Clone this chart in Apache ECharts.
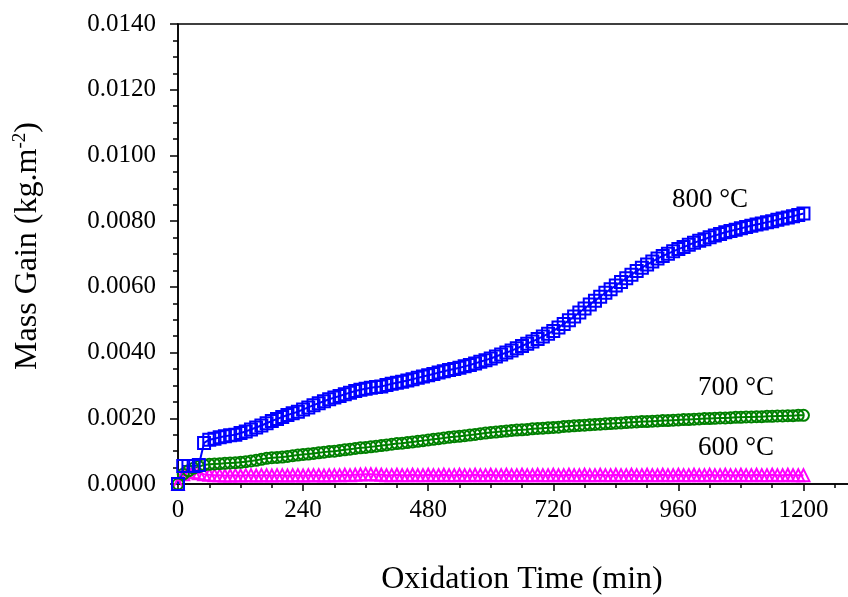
<!DOCTYPE html>
<html>
<head>
<meta charset="utf-8">
<script src="https://cdn.jsdelivr.net/npm/echarts@6/dist/echarts.min.js"></script>
<style>
    html, body { margin: 0; padding: 0; background: #fff; }
    #chart { width: 848px; height: 597px; }
</style>
</head>
<body>
<div id="chart"></div>
<script>
// Oxidation time, every 10 min from 0 to 1200
var times = [];
for (var t = 0; t <= 1200; t += 10) times.push(t);

// Mass gain (kg.m-2)
var gain800 = [
    0, 0.00055, 0.00055, 0.00055, 0.00058, 0.00125, 0.00135, 0.00138, 0.00142, 0.00145,
    0.00148, 0.00150, 0.00155, 0.00160, 0.00166, 0.00172, 0.00178, 0.00185, 0.00192, 0.00198,
    0.00204, 0.00210, 0.00215, 0.00220, 0.00227, 0.00233, 0.00240, 0.00246, 0.00252, 0.00258,
    0.00263, 0.00268, 0.00273, 0.00278, 0.00283, 0.00287, 0.00290, 0.00293, 0.00295, 0.00297,
    0.00301, 0.00305, 0.00308, 0.00311, 0.00315, 0.00319, 0.00323, 0.00327, 0.00331, 0.00335,
    0.00339, 0.00343, 0.00347, 0.00350, 0.00354, 0.00358, 0.00362, 0.00367, 0.00372, 0.00377,
    0.00382, 0.00388, 0.00394, 0.00400, 0.00406, 0.00413, 0.00420, 0.00427, 0.00434, 0.00441,
    0.00449, 0.00457, 0.00466, 0.00476, 0.00487, 0.00498, 0.00510, 0.00522, 0.00534, 0.00546,
    0.00558, 0.00570, 0.00582, 0.00593, 0.00604, 0.00615, 0.00626, 0.00637, 0.00648, 0.00658,
    0.00668, 0.00677, 0.00686, 0.00694, 0.00701, 0.00708, 0.00715, 0.00721, 0.00728, 0.00734,
    0.00740, 0.00745, 0.00751, 0.00756, 0.00761, 0.00766, 0.00770, 0.00774, 0.00778, 0.00782,
    0.00786, 0.00790, 0.00793, 0.00797, 0.00800, 0.00804, 0.00808, 0.00811, 0.00815, 0.00819,
    0.00823
];
var gain700 = [
    0, 0.00030, 0.00040, 0.00048, 0.00053, 0.00058, 0.00060, 0.00061, 0.00062, 0.00063,
    0.00064, 0.00065, 0.00066, 0.00068, 0.00070, 0.00072, 0.00075, 0.00078, 0.00080, 0.00081,
    0.00082, 0.00084, 0.00086, 0.00088, 0.00090, 0.00091, 0.00093, 0.00095, 0.00097, 0.00099,
    0.00100, 0.00102, 0.00104, 0.00106, 0.00108, 0.00110, 0.00111, 0.00113, 0.00115, 0.00117,
    0.00119, 0.00121, 0.00123, 0.00124, 0.00126, 0.00128, 0.00130, 0.00132, 0.00134, 0.00136,
    0.00138, 0.00140, 0.00142, 0.00144, 0.00145, 0.00147, 0.00149, 0.00151, 0.00153, 0.00155,
    0.00157, 0.00158, 0.00160, 0.00161, 0.00163, 0.00164, 0.00165, 0.00166, 0.00168, 0.00169,
    0.00170, 0.00171, 0.00172, 0.00173, 0.00175, 0.00176, 0.00177, 0.00178, 0.00179, 0.00180,
    0.00181, 0.00182, 0.00183, 0.00184, 0.00185, 0.00186, 0.00187, 0.00188, 0.00189, 0.00190,
    0.00190, 0.00191, 0.00192, 0.00193, 0.00193, 0.00194, 0.00195, 0.00196, 0.00196, 0.00197,
    0.00198, 0.00199, 0.00199, 0.00200, 0.00201, 0.00201, 0.00202, 0.00203, 0.00203, 0.00204,
    0.00204, 0.00205, 0.00205, 0.00206, 0.00206, 0.00207, 0.00207, 0.00208, 0.00208, 0.00209,
    0.00209
];
var gain600 = [
    0, 0.00030, 0.00038, 0.00036, 0.00033, 0.00030, 0.00028, 0.00027, 0.00027, 0.00026,
    0.00026, 0.00027, 0.00026, 0.00027, 0.00027, 0.00026, 0.00027, 0.00027, 0.00026, 0.00027,
    0.00027, 0.00026, 0.00027, 0.00027, 0.00026, 0.00027, 0.00027, 0.00027, 0.00026, 0.00027,
    0.00027, 0.00027, 0.00028, 0.00027, 0.00028, 0.00029, 0.00030, 0.00030, 0.00029, 0.00028,
    0.00027, 0.00027, 0.00028, 0.00027, 0.00027, 0.00028, 0.00027, 0.00027, 0.00028, 0.00027,
    0.00027, 0.00028, 0.00027, 0.00027, 0.00028, 0.00027, 0.00027, 0.00028, 0.00027, 0.00027,
    0.00028, 0.00027, 0.00027, 0.00028, 0.00027, 0.00027, 0.00028, 0.00027, 0.00027, 0.00028,
    0.00027, 0.00027, 0.00028, 0.00027, 0.00027, 0.00028, 0.00027, 0.00027, 0.00028, 0.00027,
    0.00027, 0.00028, 0.00027, 0.00027, 0.00028, 0.00027, 0.00027, 0.00028, 0.00027, 0.00027,
    0.00028, 0.00027, 0.00027, 0.00028, 0.00027, 0.00027, 0.00028, 0.00027, 0.00027, 0.00028,
    0.00027, 0.00027, 0.00028, 0.00027, 0.00027, 0.00028, 0.00027, 0.00027, 0.00028, 0.00027,
    0.00027, 0.00028, 0.00027, 0.00027, 0.00028, 0.00027, 0.00027, 0.00028, 0.00027, 0.00027,
    0.00027
];

var seriesLabels = ['600 °C', '700 °C', '800 °C'];

function pairs(values) {
    return values.map(function(v, i) { return [times[i], v]; });
}

var font = '"Liberation Serif", "DejaVu Serif", serif';
var chart = echarts.init(document.getElementById('chart'));

function lineSeries(name, data, color, symbol, size) {
    return {
        name: name,
        type: 'line',
        data: pairs(data),
        symbol: symbol,
        symbolSize: size,
        showAllSymbol: true,
        lineStyle: { color: color, width: 2 },
        itemStyle: { color: 'rgba(0,0,0,0)', borderColor: color, borderWidth: 2 },
        emphasis: { disabled: true },
        z: 3
    };
}

var option = {
    animation: false,
    backgroundColor: '#fff',
    grid: {
        left: 178, top: 24, width: 688, height: 460,
        outerBoundsMode: 'none', containLabel: false,
        show: true, borderColor: '#000', borderWidth: 1.5
    },
    xAxis: {
        type: 'value',
        min: 0,
        max: 1320,
        interval: 240,
        name: 'Oxidation Time (min)',
        nameLocation: 'middle',
        nameGap: 80,
        nameTextStyle: { fontFamily: font, fontSize: 32, color: '#000' },
        axisLine: { lineStyle: { color: '#000', width: 1.5 } },
        axisTick: { inside: false, length: 7, lineStyle: { color: '#000', width: 1.5 } },
        minorTick: { show: true, splitNumber: 4, length: 4, lineStyle: { color: '#000', width: 1.5 } },
        axisLabel: {
            fontFamily: font, fontSize: 25, color: '#000', margin: 14, showMaxLabel: false,
            formatter: function(v) { return String(v); }
        },
        splitLine: { show: false }
    },
    yAxis: {
        type: 'value',
        min: 0,
        max: 0.014,
        interval: 0.002,
        name: '{t|Mass Gain (kg.m}{s|-2}{t|)}',
        nameLocation: 'middle',
        nameRotate: 90,
        nameGap: 133,
        nameTextStyle: {
            fontFamily: font,
            color: '#000',
            padding: [0, 0, 0, 16],
            rich: {
                t: { fontFamily: font, fontSize: 32, color: '#000' },
                s: { fontFamily: font, fontSize: 19, color: '#000', verticalAlign: 'top', padding: [0, 0, 15, 0] }
            }
        },
        axisLine: { lineStyle: { color: '#000', width: 1.5 } },
        axisTick: { inside: false, length: 8, lineStyle: { color: '#000', width: 1.5 } },
        minorTick: { show: true, splitNumber: 4, length: 5, lineStyle: { color: '#000', width: 1.5 } },
        axisLabel: {
            fontFamily: font, fontSize: 25, color: '#000', margin: 22,
            formatter: function(v) { return v.toFixed(4); }
        },
        splitLine: { show: false }
    },
    series: [
        lineSeries(seriesLabels[0], gain600, '#ff00ff', 'triangle', 12),
        lineSeries(seriesLabels[1], gain700, '#008000', 'circle', 11),
        lineSeries(seriesLabels[2], gain800, '#0000ff', 'rect', 12)
    ],
    graphic: [
        { type: 'text', left: 672, top: 186, style: { text: seriesLabels[2], font: '27px ' + font, fill: '#000' } },
        { type: 'text', left: 698, top: 374, style: { text: seriesLabels[1], font: '27px ' + font, fill: '#000' } },
        { type: 'text', left: 698, top: 434, style: { text: seriesLabels[0], font: '27px ' + font, fill: '#000' } }
    ]
};

chart.setOption(option);
</script>
</body>
</html>
